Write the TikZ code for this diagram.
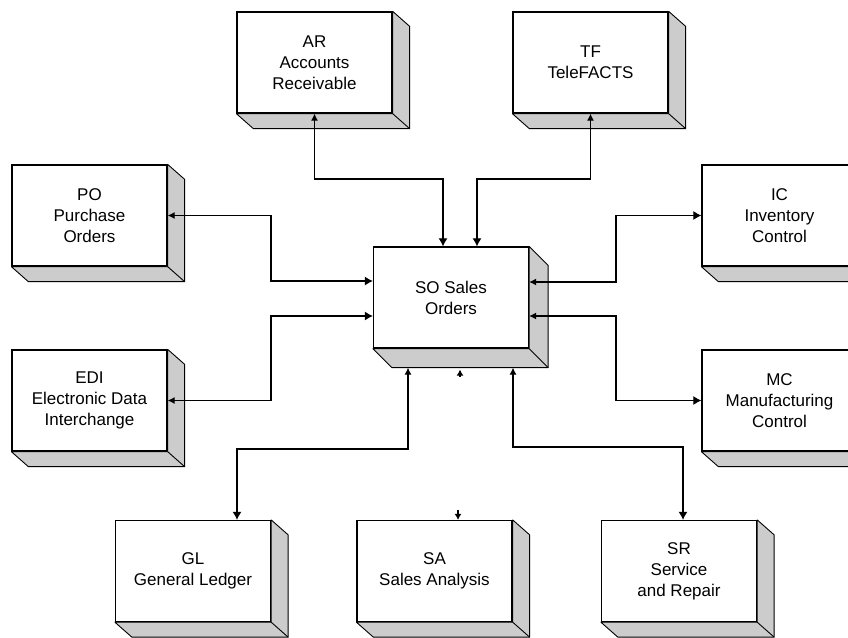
\documentclass[tikz,border=0pt]{standalone}
\usepackage{fontspec}
\setmainfont{Liberation Sans}
\usetikzlibrary{arrows.meta}

\tikzset{
  module/.style={draw, fill=white, line width=1.3pt, minimum width=155pt, minimum height=101pt,
    inner sep=0pt, align=center, font=\fontsize{17}{21}\selectfont},
  boxshadow/.style={fill=black!20, draw=black, line width=0.9pt, line join=bevel},
  link/.style={line width=1.1pt, {Latex[length=7pt,width=7pt]}-{Latex[length=8pt,width=9pt]}},
  stub/.style={line width=1.1pt, -{Latex[length=6pt,width=7pt]}}
}

% drop shadow behind a module: node name, depth right, depth down
\newcommand{\boxshade}[3]{%
  \filldraw[boxshadow] (#1.north east) -- ([shift={(#2,#3)}]#1.north east)
    -- ([shift={(#2,#3)}]#1.south east) -- ([shift={(#2,#3)}]#1.south west)
    -- (#1.south west) -- (#1.south east) -- cycle;
  \draw[boxshadow] (#1.south east) -- ([shift={(#2,#3)}]#1.south east);}

\begin{document}
\begin{tikzpicture}[x=1pt,y=-1pt]
  \clip (0,0) rectangle (848,637);

  % the modules
  \node[module] (AR) at (314.5,62.5) {AR\\Accounts\\Receivable};
  \node[module] (TF) at (590.5,62.5) {TF\\TeleFACTS};
  \node[module] (PO) at (89.5,215.5) {PO\\Purchase\\Orders};
  \node[module] (IC) at (779.5,215.5) {IC\\Inventory\\Control};
  \node[module] (SO) at (451,297.5) {SO Sales\\Orders};
  \node[module] (EDI) at (89.5,400.5) {EDI\\Electronic Data\\Interchange};
  \node[module] (MC) at (779.5,400.5) {MC\\Manufacturing\\Control};
  \node[module] (GL) at (193,571) {GL\\General Ledger};
  \node[module] (SA) at (434.5,571) {SA\\Sales Analysis};
  \node[module] (SR) at (679,571) {SR\\Service\\and Repair};

  % shadows
  \foreach \m in {AR,TF,PO,IC,EDI,MC,GL,SA,SR} {\boxshade{\m}{17}{15}}
  \boxshade{SO}{19}{19}

  % links to the top
  \draw[link] (AR.south) -- (AR.south |- 0,179) -| ([xshift=-8pt]SO.north);
  \draw[link] (TF.south) -- (TF.south |- 0,179) -| ([xshift=26pt]SO.north);

  % links to the left
  \draw[link] (PO.east) -| (271,250) |- ([yshift=16.5pt]SO.west);
  \draw[link] (EDI.east) -| (271,350) |- ([yshift=-18.5pt]SO.west);

  % links to the right
  \draw[link] ([yshift=15.5pt]SO.east) -| (616,250) |- (IC.west);
  \draw[link] ([yshift=-18.5pt]SO.east) -| (616,350) |- (MC.west);

  % links to the bottom
  \draw[link] ([xshift=-43pt,yshift=-19pt]SO.south) |- (237,449) -- ([xshift=44pt]GL.north);
  \draw[link] ([xshift=62pt,yshift=-19pt]SO.south) |- (683,447) -- ([xshift=4pt]SR.north);

  % loose tips of the SA link
  \coordinate (SAstub) at (458,510);
  \draw[stub] (SAstub) -- (SAstub |- SA.north);
  \draw[stub] ([xshift=9pt,yshift=-28pt]SO.south) -- ([xshift=9pt,yshift=-21pt]SO.south);
\end{tikzpicture}
\end{document}
